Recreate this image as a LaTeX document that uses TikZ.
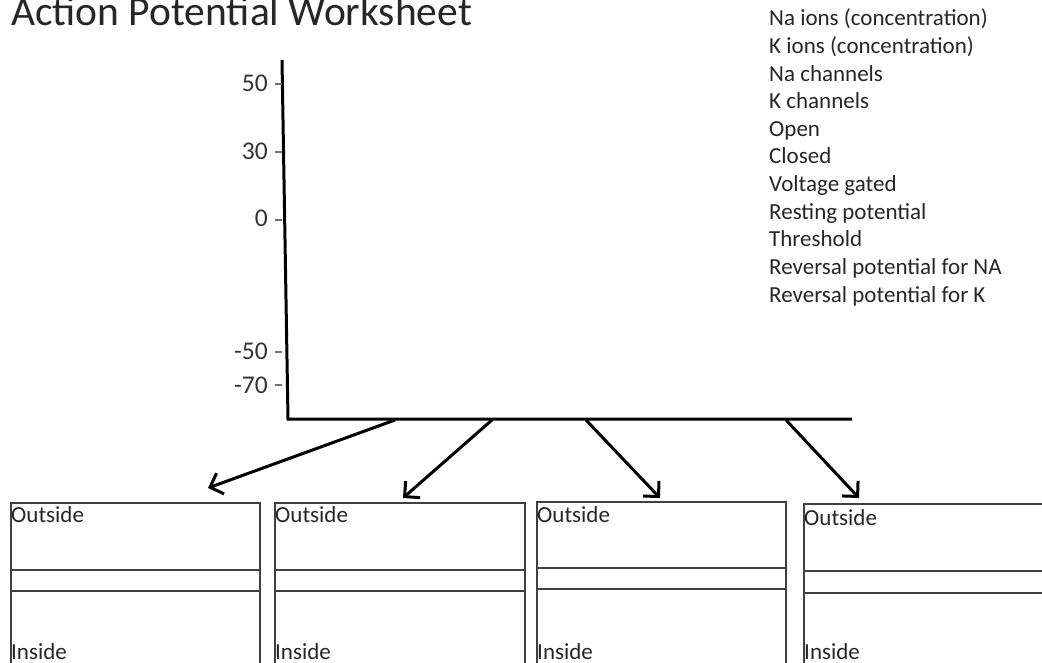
\documentclass[tikz,border=0pt]{standalone}
\usepackage{fontspec}
\setmainfont{Carlito}
\usetikzlibrary{arrows.meta}
\begin{document}
\begin{tikzpicture}[x=1pt,y=-1pt,
  listtxt/.style={inner sep=0pt, anchor=base west, text=black!85, font=\fontsize{23}{27}\selectfont},
  ticktxt/.style={inner sep=0pt, anchor=base east, text=black!80, font=\fontsize{25.5}{30}\selectfont},
  titletxt/.style={inner sep=0pt, anchor=base west, text=black!85, font=\fontsize{41.5}{48}\selectfont},
  axisline/.style={line width=3pt, black},
  tickline/.style={line width=1.5pt, black!55},
  pointer/.style={line width=3pt, black, -{Straight Barb[length=11pt,width=22pt,line width=3pt]}},
  cellbox/.style={draw=black!75, line width=1.6pt, inner sep=0pt, anchor=north west, minimum width=#1, minimum height=200pt},
  membrane/.style={draw=black!75, line width=1.6pt},
  celltxt/.style={inner sep=0pt, anchor=base west, text=black!85, font=\fontsize{23}{27}\selectfont}
]
\useasboundingbox (0,0) rectangle (1042,663);
\clip (0,0) rectangle (1042,663);

% title
\node[titletxt] (title) at (11,26) {Action Potential Worksheet};

% word list
\foreach \t [count=\i] in {Na ions (concentration),K ions (concentration),Na channels,K channels,Open,Closed,Voltage gated,Resting potential,Threshold,Reversal potential for NA,Reversal potential for K}
  \node[listtxt] (w\i) at (769,{26+27.6*(\i-1)}) {\t};

% axes
\coordinate (ytop) at (282,60);
\coordinate (orig) at (288,419);
\coordinate (xend) at (852,419);
\draw[axisline] (ytop) -- (orig) -- (xend);

% ticks and labels
\foreach \v/\yb/\yt [count=\i] in {50/92/84,30/160/152,0/227/220,-50/359/352,-70/393/385}{
  \node[ticktxt] (lab\i) at (268,\yb) {\v};
  \coordinate (tk\i a) at (275,\yt);
  \coordinate (tk\i b) at (281.5,\yt);
  \draw[tickline] (tk\i a) -- (tk\i b);
}

% cell boxes
\node[cellbox=249pt] (box1) at (10,502) {};
\node[cellbox=250pt] (box2) at (274,502) {};
\node[cellbox=249pt] (box3) at (536,501) {};
\node[cellbox=260pt] (box4) at (803,503) {};

% membranes
\draw[membrane] (box1.west |- 0,570) -- (box1.east |- 0,570);
\draw[membrane] (box1.west |- 0,591) -- (box1.east |- 0,591);
\draw[membrane] (box2.west |- 0,570) -- (box2.east |- 0,570);
\draw[membrane] (box2.west |- 0,591) -- (box2.east |- 0,591);
\draw[membrane] (box3.west |- 0,568) -- (box3.east |- 0,568);
\draw[membrane] (box3.west |- 0,589) -- (box3.east |- 0,589);
\draw[membrane] (box4.west |- 0,571) -- (box4.east |- 0,571);
\draw[membrane] (box4.west |- 0,593) -- (box4.east |- 0,593);

% labels in boxes
\node[celltxt] (o1) at (11,522) {Outside};
\node[celltxt] (i1) at (11,659) {Inside};
\node[celltxt] (o2) at (275,522) {Outside};
\node[celltxt] (i2) at (275,659) {Inside};
\node[celltxt] (o3) at (537,522) {Outside};
\node[celltxt] (i3) at (537,659) {Inside};
\node[celltxt] (o4) at (804,525) {Outside};
\node[celltxt] (i4) at (804,659) {Inside};

% pointers
\coordinate (s1) at (395,420);
\coordinate (e1) at (208,488);
\coordinate (s2) at (492,420);
\coordinate (e2) at (403,498);
\coordinate (s3) at (586,420);
\coordinate (e3) at (660,498);
\coordinate (s4) at (786,420);
\coordinate (e4) at (859,498);
\draw[pointer] (s1) -- (e1);
\draw[pointer] (s2) -- (e2);
\draw[pointer] (s3) -- (e3);
\draw[pointer] (s4) -- (e4);
\end{tikzpicture}
\end{document}
